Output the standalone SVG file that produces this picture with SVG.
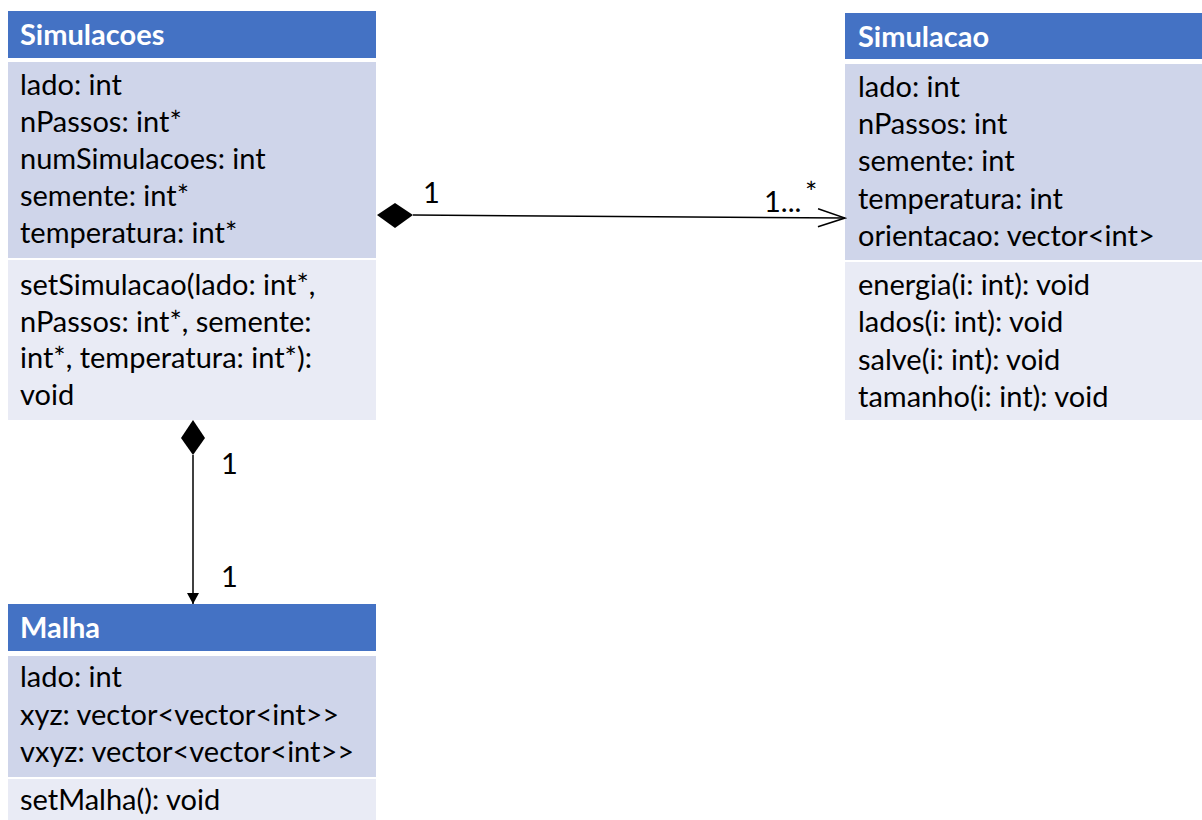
<svg xmlns="http://www.w3.org/2000/svg" width="1202" height="820" viewBox="0 0 1202 820">
<defs>
<style>
.hd{fill:#4472C4}
.at{fill:#CFD5EA}
.me{fill:#E9EBF5}
.ht{font-family:Lato,"Liberation Sans",sans-serif;font-weight:bold;font-size:29px;fill:#FFFFFF}
.tx{font-family:Lato,"Liberation Sans",sans-serif;font-size:29px;fill:#000000}
.ln{stroke:#000;stroke-width:1.5;fill:none}
</style>
<marker id="open" markerWidth="30" markerHeight="30" refX="28" refY="12" orient="auto" markerUnits="userSpaceOnUse">
<path d="M1,3 L28,12 L1,21" fill="none" stroke="#000" stroke-width="1.5"/>
</marker>
<marker id="fill" markerWidth="14" markerHeight="14" refX="6" refY="11" orient="0" markerUnits="userSpaceOnUse">
<path d="M0,0 L12,0 L6,11 Z" fill="#000"/>
</marker>
</defs>
<g id="simulacoes">
<rect class="hd" x="8" y="11" width="368" height="47"/>
<rect class="at" x="8" y="62" width="368" height="196"/>
<rect class="me" x="8" y="260" width="368" height="160"/>
<text class="ht" x="20" y="45">Simulacoes</text>
<text class="tx" x="20" y="95">lado: int</text>
<text class="tx" x="20" y="132">nPassos: int*</text>
<text class="tx" x="20" y="169">numSimulacoes: int</text>
<text class="tx" x="20" y="206">semente: int*</text>
<text class="tx" x="20" y="243">temperatura: int*</text>
<text class="tx" x="20" y="295">setSimulacao(lado: int*,</text>
<text class="tx" x="20" y="332">nPassos: int*, semente:</text>
<text class="tx" x="20" y="368">int*, temperatura: int*):</text>
<text class="tx" x="20" y="405">void</text>
</g>
<g id="simulacao">
<rect class="hd" x="845" y="13" width="357" height="46"/>
<rect class="at" x="845" y="64" width="357" height="196"/>
<rect class="me" x="845" y="262" width="357" height="158"/>
<text class="ht" x="858" y="47">Simulacao</text>
<text class="tx" x="858" y="97">lado: int</text>
<text class="tx" x="858" y="134">nPassos: int</text>
<text class="tx" x="858" y="171">semente: int</text>
<text class="tx" x="858" y="209">temperatura: int</text>
<text class="tx" x="858" y="246">orientacao: vector&lt;int&gt;</text>
<text class="tx" x="858" y="295">energia(i: int): void</text>
<text class="tx" x="858" y="332">lados(i: int): void</text>
<text class="tx" x="858" y="370">salve(i: int): void</text>
<text class="tx" x="858" y="407">tamanho(i: int): void</text>
</g>
<g id="malha">
<rect class="hd" x="8" y="604" width="368" height="47"/>
<rect class="at" x="8" y="656" width="368" height="121"/>
<rect class="me" x="8" y="779" width="368" height="41"/>
<text class="ht" x="20" y="638">Malha</text>
<text class="tx" x="20" y="687">lado: int</text>
<text class="tx" x="20" y="725">xyz: vector&lt;vector&lt;int&gt;&gt;</text>
<text class="tx" x="20" y="762">vxyz: vector&lt;vector&lt;int&gt;&gt;</text>
<text class="tx" x="20" y="810">setMalha(): void</text>
</g>
<g id="connectors">
<path d="M377,215 L395,203 L413,215 L395,228 Z" fill="#000"/>
<line class="ln" x1="413" y1="215" x2="845" y2="218" marker-end="url(#open)"/>
<text class="tx" x="423" y="203" font-size="25">1</text>
<text class="tx" x="764" y="212" font-size="25">1...</text>
<text class="tx" x="805" y="203" font-size="22">*</text>
<path d="M193,420 L181,438 L193,455 L205,438 Z" fill="#000"/>
<line class="ln" x1="193" y1="455" x2="193" y2="604" marker-end="url(#fill)"/>
<text class="tx" x="221" y="474" font-size="25">1</text>
<text class="tx" x="221" y="587" font-size="25">1</text>
</g>
</svg>
